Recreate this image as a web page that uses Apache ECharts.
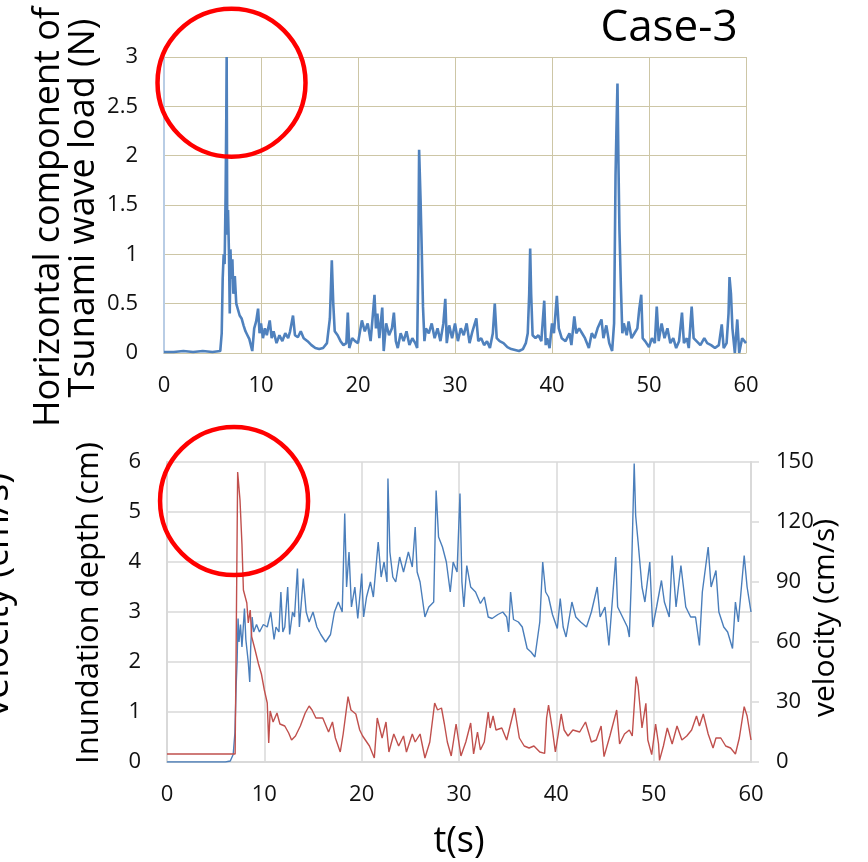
<!DOCTYPE html>
<html><head><meta charset="utf-8">
<script src="https://cdn.jsdelivr.net/npm/echarts@6/dist/echarts.min.js"></script>
<style>html,body{margin:0;padding:0;background:#fff}#c{width:868px;height:862px}</style>
</head><body><div id="c"></div>
<script>
// ---- data (time in s, value) ----
const loadPoints = [[0,0.01],[1,0.01],[2,0.02],[3,0.01],[4,0.02],[5,0.01],[5.8,0.02],[5.95,0.2],[6.05,0.75],[6.15,1.0],[6.25,0.9],[6.35,1.6],[6.42,2.38],[6.46,3.0],[6.52,1.2],[6.6,1.45],[6.7,1.0],[6.78,0.4],[6.85,1.05],[6.95,0.75],[7.05,0.95],[7.15,0.6],[7.3,0.78],[7.45,0.5],[7.6,0.52],[7.8,0.38],[8.0,0.35],[8.2,0.28],[8.4,0.22],[8.6,0.18],[8.8,0.14],[9.0,0.12],[9.1,0.02],[9.3,0.25],[9.5,0.32],[9.7,0.45],[9.85,0.2],[10.0,0.3],[10.2,0.15],[10.4,0.25],[10.6,0.18],[10.9,0.33],[11.1,0.15],[11.3,0.22],[11.6,0.1],[11.9,0.18],[12.2,0.12],[12.5,0.2],[12.8,0.15],[13.0,0.22],[13.3,0.38],[13.5,0.18],[13.8,0.16],[14.1,0.22],[14.4,0.15],[14.8,0.12],[15.2,0.08],[15.6,0.05],[16.0,0.04],[16.4,0.05],[16.8,0.1],[17.1,0.35],[17.3,0.94],[17.45,0.5],[17.6,0.22],[17.9,0.18],[18.2,0.12],[18.5,0.08],[18.8,0.1],[18.95,0.41],[19.1,0.05],[19.4,0.15],[19.7,0.12],[20.0,0.1],[20.4,0.33],[20.7,0.22],[21.0,0.3],[21.3,0.12],[21.5,0.35],[21.7,0.59],[21.85,0.25],[22.0,0.4],[22.2,0.15],[22.5,0.46],[22.65,0.02],[22.9,0.3],[23.2,0.18],[23.5,0.25],[23.7,0.41],[23.9,0.12],[24.1,0.05],[24.4,0.2],[24.7,0.12],[25.0,0.22],[25.3,0.08],[25.6,0.15],[25.9,0.1],[26.1,0.05],[26.2,0.8],[26.3,2.06],[26.45,1.55],[26.55,1.14],[26.7,0.47],[26.85,0.12],[27.0,0.25],[27.3,0.2],[27.6,0.3],[27.9,0.15],[28.2,0.25],[28.5,0.12],[28.8,0.3],[29.0,0.55],[29.15,0.1],[29.4,0.28],[29.7,0.15],[30.0,0.3],[30.3,0.12],[30.6,0.25],[30.9,0.18],[31.2,0.3],[31.5,0.1],[31.8,0.22],[32.2,0.35],[32.4,0.12],[32.7,0.15],[33.0,0.08],[33.3,0.12],[33.6,0.05],[33.9,0.2],[34.1,0.5],[34.3,0.15],[34.6,0.12],[35.0,0.1],[35.4,0.06],[35.8,0.04],[36.2,0.03],[36.6,0.02],[37.0,0.04],[37.3,0.1],[37.5,0.2],[37.65,0.6],[37.75,1.06],[37.85,0.6],[38.0,0.18],[38.3,0.15],[38.6,0.18],[38.9,0.12],[39.2,0.53],[39.35,0.08],[39.5,0.15],[39.75,0.05],[40.0,0.3],[40.2,0.2],[40.5,0.58],[40.7,0.25],[41.0,0.15],[41.4,0.12],[41.8,0.2],[42.0,0.08],[42.3,0.37],[42.5,0.2],[42.8,0.25],[43.1,0.2],[43.4,0.15],[43.8,0.05],[44.1,0.2],[44.4,0.15],[44.7,0.25],[45.1,0.34],[45.3,0.15],[45.6,0.28],[45.9,0.1],[46.2,0.02],[46.4,0.3],[46.55,1.8],[46.65,2.29],[46.75,2.73],[46.85,1.93],[46.95,1.26],[47.1,0.68],[47.25,0.2],[47.4,0.3],[47.7,0.18],[47.9,0.32],[48.2,0.15],[48.5,0.2],[48.8,0.25],[49.0,0.45],[49.2,0.59],[49.35,0.15],[49.6,0.12],[50.0,0.06],[50.3,0.15],[50.6,0.1],[50.8,0.47],[51.0,0.12],[51.3,0.3],[51.6,0.15],[51.9,0.25],[52.2,0.1],[52.5,0.15],[52.8,0.05],[53.1,0.12],[53.4,0.41],[53.6,0.1],[53.9,0.15],[54.1,0.05],[54.4,0.47],[54.6,0.15],[54.9,0.12],[55.3,0.08],[55.7,0.15],[56.0,0.1],[56.4,0.08],[56.8,0.05],[57.2,0.08],[57.5,0.29],[57.7,0.05],[58.0,0.1],[58.2,0.4],[58.3,0.77],[58.45,0.6],[58.6,0.25],[58.85,0.0],[59.1,0.34],[59.3,0.0],[59.6,0.15],[60,0.1]];

const depthPoints = [[0,0.0],[6.0,0.0],[6.5,0.02],[6.8,0.15],[6.98,0.59],[7.1,1.5],[7.2,2.0],[7.3,2.87],[7.4,2.4],[7.55,2.75],[7.7,2.3],[7.96,3.07],[8.1,2.45],[8.35,2.0],[8.5,1.6],[8.6,2.3],[8.75,2.9],[8.9,2.6],[9.2,2.75],[9.5,2.6],[9.9,2.75],[10.3,2.7],[10.66,3.0],[11.0,2.45],[11.2,2.7],[11.5,2.6],[11.7,3.4],[11.9,2.6],[12.1,2.7],[12.4,3.5],[12.6,2.55],[12.9,3.0],[13.1,2.9],[13.4,3.87],[13.6,2.7],[14.0,3.67],[14.3,3.0],[14.6,2.8],[15.0,3.0],[15.4,2.7],[15.8,2.55],[16.3,2.4],[16.8,2.55],[17.2,3.0],[17.6,3.2],[18.0,3.0],[18.26,4.97],[18.45,3.5],[18.7,4.2],[18.95,3.1],[19.3,3.5],[19.6,2.87],[19.9,3.5],[20.0,3.77],[20.2,2.9],[20.5,3.3],[20.9,3.6],[21.2,3.3],[21.7,4.4],[22.0,3.7],[22.3,4.0],[22.6,3.6],[22.7,5.67],[22.9,4.2],[23.2,3.7],[23.5,3.6],[23.9,4.1],[24.3,3.8],[24.8,4.2],[25.2,3.9],[25.5,4.7],[25.7,3.8],[26.0,3.6],[26.5,2.9],[26.9,3.1],[27.4,3.2],[27.65,5.43],[27.9,4.5],[28.3,4.3],[28.7,4.0],[29.1,3.4],[29.4,4.0],[29.8,3.8],[30.1,5.37],[30.3,3.6],[30.5,3.1],[30.8,3.93],[31.2,3.5],[31.7,3.4],[32.2,3.17],[32.6,3.3],[33.0,2.9],[33.4,2.87],[34.0,2.95],[34.5,3.0],[34.9,2.9],[35.1,2.6],[35.3,3.4],[35.6,2.85],[36.1,2.8],[36.5,2.7],[37.0,2.27],[37.4,2.2],[37.8,2.1],[38.3,2.8],[38.6,4.0],[38.9,3.4],[39.2,3.3],[39.6,2.95],[40.1,2.67],[40.4,3.27],[40.7,2.7],[41.0,2.5],[41.6,3.2],[42.0,2.9],[42.5,2.8],[43.1,2.7],[43.6,3.0],[44.2,3.5],[44.5,2.9],[45.0,3.1],[45.4,2.33],[46.1,4.1],[46.3,3.1],[46.8,2.9],[47.3,2.7],[47.5,2.5],[47.7,3.6],[48.0,5.97],[48.15,4.93],[48.4,4.4],[48.8,3.5],[49.1,3.2],[49.6,4.0],[49.9,2.7],[50.3,3.1],[50.8,3.63],[51.1,3.2],[51.6,2.9],[51.9,4.13],[52.3,3.1],[52.8,3.93],[53.3,3.1],[53.8,2.9],[54.3,2.9],[54.7,2.33],[55.0,3.4],[55.6,4.3],[55.9,3.5],[56.4,3.83],[56.7,3.0],[57.2,2.7],[57.6,2.6],[58.1,2.27],[58.4,3.2],[58.7,2.8],[59.3,4.13],[59.6,3.5],[60,3.0]];

const velocityPoints = [[0,4],[7.0,4],[7.1,56],[7.26,145],[7.5,131],[7.7,109],[7.85,86],[8.2,79.5],[8.35,69.5],[8.55,76],[8.7,62.7],[9.05,56],[9.4,49],[9.7,44],[10.0,36],[10.3,29.5],[10.45,9.5],[10.6,25.5],[10.9,20],[11.3,24.5],[11.6,19],[12.1,18],[12.5,14.5],[12.8,11],[13.2,13],[13.7,18],[14.2,24.5],[14.6,28],[14.9,26],[15.3,22],[16.0,22],[16.6,15],[17.0,20],[17.3,12],[17.8,5],[18.1,14],[18.6,32.7],[18.9,26],[19.4,24],[19.8,16],[20.1,13],[20.8,8],[21.3,2],[21.6,22],[22.1,12],[22.5,20],[22.8,5],[23.3,14],[23.8,8],[24.3,13],[24.6,5],[25.2,14],[25.5,10],[26.0,14],[26.5,2],[27.0,10],[27.5,29.5],[27.8,26],[28.2,27],[28.5,19],[28.8,10],[29.2,3],[29.7,19],[30.2,3],[30.7,10],[31.2,19.5],[31.5,4],[31.9,15],[32.2,6],[32.6,10],[33.0,25],[33.2,17],[33.5,23],[33.8,16],[34.4,17],[34.9,11],[35.7,27],[36.2,12],[36.7,8],[37.2,7],[37.7,8],[38.3,5],[38.8,4.3],[39.0,22],[39.2,28.5],[39.6,16],[39.9,5],[40.2,14],[40.5,24],[40.8,16],[41.2,13],[41.7,16],[42.4,15],[43.0,20],[43.6,10],[44.1,11],[44.6,18],[44.9,2.7],[45.5,13],[46.2,26],[46.5,9],[47.0,14],[47.5,16],[47.8,13],[48.2,42.7],[48.4,38],[48.8,17],[49.2,29.3],[49.4,11],[49.8,3.7],[50.2,19],[50.5,9],[50.6,0.8],[51.0,8],[51.4,17],[51.9,9],[52.4,18],[52.9,11],[53.4,13],[53.9,16],[54.4,23],[54.7,18],[55.1,24],[55.6,14],[56.1,7],[56.4,12],[56.9,12],[57.4,8],[57.9,7],[58.4,4],[58.8,12],[59.3,27.7],[59.6,23],[60,11]];

// axis ranges
const timeRange = [0, 60], timeStep = 10;
const loadRange = [0, 3], loadStep = 0.5;
const depthRange = [0, 6], depthStep = 1;
const velRange = [0, 150], velStep = 30;
// annotation circle centres (data coords)
const circleTop = [6.96, 2.74];
const circleBottom = [6.89, 5.22];

const FONT = "'Open Sans', 'Noto Sans', sans-serif";
const tan = '#cdc6a6', grey = '#d9d9d9';
const lbl = {fontFamily: FONT, fontSize: 22, color: '#111'};

const chart = echarts.init(document.getElementById('c'), null, {renderer: 'canvas'});
const option = {
  animation: false,
  backgroundColor: '#fff',
  grid: [
    {left: 164, right: 122, top: 57, height: 296},
    {left: 167, right: 117, top: 462, height: 300}
  ],
  xAxis: [
    {gridIndex: 0, type: 'value', min: timeRange[0], max: timeRange[1], interval: timeStep,
      axisLine: {show: true, lineStyle: {color: tan}}, axisTick: {show: false},
      splitLine: {show: true, lineStyle: {color: tan, width: 1}},
      axisLabel: Object.assign({margin: 22}, lbl)},
    {gridIndex: 1, type: 'value', min: timeRange[0], max: timeRange[1], interval: timeStep,
      axisLine: {show: true, lineStyle: {color: grey, width: 2}}, axisTick: {show: false},
      splitLine: {show: true, lineStyle: {color: grey, width: 1.5}},
      axisLabel: Object.assign({margin: 22}, lbl),
      name: 't(s)', nameLocation: 'middle', nameGap: 62,
      nameTextStyle: {fontFamily: FONT, fontSize: 36, color: '#000'}}
  ],
  yAxis: [
    {gridIndex: 0, type: 'value', min: loadRange[0], max: loadRange[1], interval: loadStep,
      axisLine: {show: true, lineStyle: {color: '#b9cde5', width: 2}}, axisTick: {show: false},
      splitLine: {show: true, lineStyle: {color: tan, width: 1}},
      axisLabel: Object.assign({margin: 26}, lbl)},
    {gridIndex: 1, type: 'value', min: depthRange[0], max: depthRange[1], interval: depthStep,
      axisLine: {show: true, lineStyle: {color: grey, width: 2}}, axisTick: {show: false},
      splitLine: {show: true, lineStyle: {color: grey, width: 1.5}},
      axisLabel: Object.assign({margin: 26}, lbl)},
    {gridIndex: 1, type: 'value', position: 'right', min: velRange[0], max: velRange[1], interval: velStep,
      axisLine: {show: true, lineStyle: {color: grey, width: 2}},
      axisTick: {show: true, inside: false, length: 8, lineStyle: {color: grey, width: 1.5}},
      splitLine: {show: false},
      axisLabel: Object.assign({}, lbl, {margin: 25})}
  ],
  series: [
    {name: 'Horizontal load', type: 'line', xAxisIndex: 0, yAxisIndex: 0, data: loadPoints,
      showSymbol: false, lineStyle: {color: '#4f81bd', width: 2.6}, z: 3},
    {name: 'Inundation depth', type: 'line', xAxisIndex: 1, yAxisIndex: 1, data: depthPoints,
      showSymbol: false, lineStyle: {color: '#4a7ebb', width: 1.4}, z: 3},
    {name: 'velocity', type: 'line', xAxisIndex: 1, yAxisIndex: 2, data: velocityPoints,
      showSymbol: false, lineStyle: {color: '#c0504d', width: 1.4}, z: 4}
  ]
};
chart.setOption(option);

const p1 = chart.convertToPixel({xAxisIndex: 0, yAxisIndex: 0}, circleTop);
const p2 = chart.convertToPixel({xAxisIndex: 1, yAxisIndex: 1}, circleBottom);
const txt = (text, x, y, size, rot) => ({
  type: 'text', x: x, y: y, rotation: rot || 0, z: 10,
  style: {text: text, font: size + 'px ' + FONT, fill: '#000', align: 'center', verticalAlign: 'middle'}
});
chart.setOption({
  graphic: [
    {type: 'circle', shape: {cx: p1[0], cy: p1[1], r: 74}, style: {fill: 'none', stroke: '#ff0000', lineWidth: 4.5}, z: 20},
    {type: 'circle', shape: {cx: p2[0], cy: p2[1], r: 74}, style: {fill: 'none', stroke: '#ff0000', lineWidth: 4.5}, z: 20},
    txt('Case-3', 669, 28, 44, 0),
    txt('Horizontal component of', 49, 217, 36, Math.PI / 2),
    txt('Tsunami wave load (N)', 84, 208, 36, Math.PI / 2),
    txt('Inundation depth (cm)', 89, 603, 31, Math.PI / 2),
    txt('velocity (cm/s)', 825, 618, 30, Math.PI / 2),
    txt('velocity (cm/s)', -3, 595, 37, Math.PI / 2)
  ]
});
</script>
</body></html>
